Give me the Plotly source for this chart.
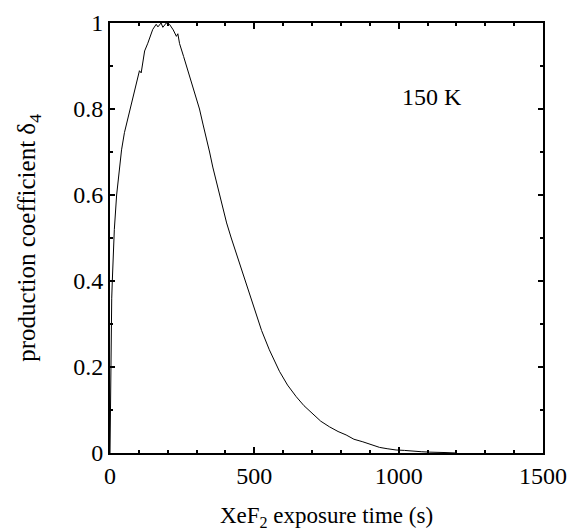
import plotly.graph_objects as go

# exposure time (s)
time_s = [0, 2, 4, 6, 8, 11, 15, 23, 32, 40, 50, 58, 70, 81, 90, 96, 102, 108, 115, 120,
          131, 137, 148, 160, 166, 177, 183, 195, 206, 219, 230, 235, 241, 255, 264, 277,
          287, 300, 310, 322, 333, 345, 356, 373, 385, 391, 404, 420, 437, 455, 474, 490,
          506, 525, 552, 587, 615, 645, 672, 702, 730, 760, 790, 818, 845, 876, 905, 934,
          960, 991, 1020, 1049, 1078, 1106, 1135, 1164, 1200]
# production coefficient delta_4
delta4 = [0.0, 0.15, 0.30, 0.36, 0.40, 0.45, 0.52, 0.60, 0.66, 0.705, 0.745, 0.767, 0.80,
          0.83, 0.855, 0.872, 0.889, 0.884, 0.912, 0.935, 0.953, 0.964, 0.985, 0.997, 0.991,
          1.0, 0.990, 1.0, 0.997, 0.984, 0.969, 0.975, 0.952, 0.922, 0.902, 0.878, 0.856, 0.825,
          0.80, 0.765, 0.735, 0.70, 0.665, 0.62, 0.585, 0.567, 0.535, 0.50, 0.465, 0.43,
          0.39, 0.355, 0.32, 0.285, 0.24, 0.19, 0.158, 0.131, 0.110, 0.092, 0.074, 0.061,
          0.050, 0.042, 0.032, 0.026, 0.020, 0.013, 0.010, 0.007, 0.006, 0.004, 0.003, 0.002,
          0.002, 0.001, 0.0]

x_ticks = [0, 500, 1000, 1500]
y_ticks = [0, 0.2, 0.4, 0.6, 0.8, 1.0]
y_ticktext = ["0", "0.2", "0.4", "0.6", "0.8", "1"]
label_text = "150 K"

FONT = "Liberation Serif, Times New Roman, serif"

fig = go.Figure()
fig.add_trace(go.Scatter(x=time_s, y=delta4, mode="lines",
                         line=dict(color="black", width=1), showlegend=False))

fig.add_annotation(x=1114, y=0.828, text=label_text, showarrow=False,
                   font=dict(family=FONT, size=24, color="black"))

axis_common = dict(showline=True, linecolor="black", linewidth=2, mirror="ticks",
                   ticks="inside", tickcolor="black", tickwidth=1.5, showgrid=False,
                   zeroline=False, automargin=False,
                   tickfont=dict(family=FONT, size=24, color="black"))

fig.update_xaxes(range=[0, 1500], tickvals=x_ticks, ticklen=6,
                 minor=dict(dtick=100, ticks="inside", ticklen=3, tickcolor="black",
                            tickwidth=1.5, showgrid=False),
                 title=dict(text="XeF<sub>2</sub> exposure time (s)", standoff=19,
                            font=dict(family=FONT, size=23, color="black")),
                 **axis_common)
fig.update_yaxes(range=[0, 1], tickvals=y_ticks, ticktext=y_ticktext, ticklen=5,
                 minor=dict(dtick=0.1, ticks="inside", ticklen=3, tickcolor="black",
                            tickwidth=1.5, showgrid=False),
                 title=dict(text="production coefficient δ<sub>4</sub>", standoff=30,
                            font=dict(family=FONT, size=25, color="black")),
                 **axis_common)

fig.update_layout(template="none", width=584, height=531,
                  margin=dict(l=110, r=41, t=23, b=78),
                  paper_bgcolor="white", plot_bgcolor="white",
                  font=dict(family=FONT, color="black"))

fig.write_html("out.html", config={"displayModeBar": False},
               post_script="document.body.style.margin='0';document.body.style.overflow='hidden';")
